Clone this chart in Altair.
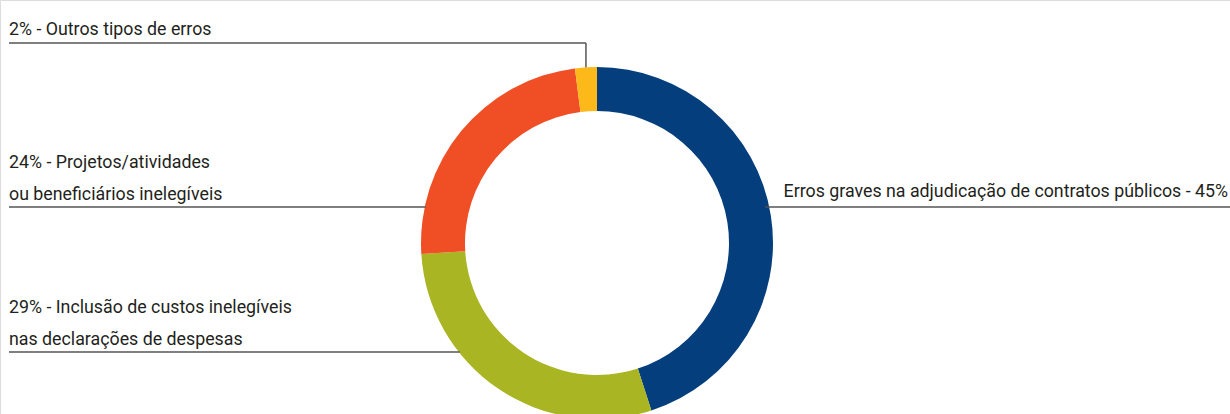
import math
import altair as alt
import pandas as pd

# ---- data ----
categories = [
    "Erros graves na adjudicação de contratos públicos",
    "Inclusão de custos inelegíveis nas declarações de despesas",
    "Projetos/atividades ou beneficiários inelegíveis",
    "Outros tipos de erros",
]
shares = [45, 29, 24, 2]
colors = ["#043e7d", "#a9b522", "#f04e24", "#fdb81a"]
label_texts = [
    "Erros graves na adjudicação de contratos públicos - 45%",
    "29% - Inclusão de custos inelegíveis\nnas declarações de despesas",
    "24% - Projetos/atividades\n\u2002ou beneficiários inelegíveis",
    "2% - Outros tipos de erros",
]

# ---- layout ----
W, H = 1230, 414
CX, CY = 597, 243
R_OUT, R_IN = 176, 132
FONT = "Roboto"
FS = 17.8
LEFT_X, RIGHT_X = 9, 1228
# label: (side, first baseline y, leader y)
label_layout = [
    ("right", 197, 207),
    ("left", 313, 352),
    ("left", 168, 207),
    ("left", 35, 43),
]

df = pd.DataFrame({"cat": categories, "share": shares, "idx": range(len(shares))})


def edge_x(y, side):
    dy = y - CY
    dx = math.sqrt(max(R_OUT**2 - dy**2, 0))
    return CX + dx if side == "right" else CX - dx


total = sum(shares)
cum = 0
segs = []
texts = []
for i, (s, lab) in enumerate(zip(shares, label_texts)):
    side, ty, ly = label_layout[i]
    mid = (cum + s / 2) / total * 2 * math.pi
    cum += s
    if i == len(shares) - 1:
        px = CX + R_OUT * math.sin(mid)
        py = CY - R_OUT * math.cos(mid)
        segs.append({"x": px, "y": py, "x2": px, "y2": ly})
        segs.append({"x": LEFT_X, "y": ly, "x2": px, "y2": ly})
    elif side == "right":
        segs.append({"x": edge_x(ly, "right") - 4, "y": ly, "x2": W, "y2": ly})
    else:
        segs.append({"x": LEFT_X, "y": ly, "x2": edge_x(ly, "left") + 1, "y2": ly})
    texts.append({"x": RIGHT_X if side == "right" else LEFT_X, "y": ty,
                  "label": lab, "side": side})

seg_df = pd.DataFrame(segs)
txt_df = pd.DataFrame(texts)

xs = alt.Scale(domain=[0, W], range=[0, W], nice=False, zero=False)
ys = alt.Scale(domain=[0, H], range=[0, H], nice=False, zero=False)

arc = alt.Chart(df).mark_arc(outerRadius=R_OUT, innerRadius=R_IN).encode(
    theta=alt.Theta("share:Q", stack=True),
    order=alt.Order("idx:Q"),
    color=alt.Color("cat:N", scale=alt.Scale(domain=categories, range=colors), legend=None),
    x=alt.value(CX),
    y=alt.value(CY),
)

rules = alt.Chart(seg_df).mark_rule(color="#555555", strokeWidth=1.5).encode(
    x=alt.X("x:Q", scale=xs, axis=None),
    y=alt.Y("y:Q", scale=ys, axis=None),
    x2="x2:Q",
    y2="y2:Q",
)

left_txt = alt.Chart(txt_df[txt_df.side == "left"]).mark_text(
    align="left", baseline="alphabetic", font=FONT, fontSize=FS,
    color="#231f20", lineBreak="\n", lineHeight=32,
).encode(
    x=alt.X("x:Q", scale=xs, axis=None),
    y=alt.Y("y:Q", scale=ys, axis=None),
    text="label:N",
)

right_txt = alt.Chart(txt_df[txt_df.side == "right"]).mark_text(
    align="right", baseline="alphabetic", font=FONT, fontSize=FS,
    color="#231f20", lineBreak="\n", lineHeight=32,
).encode(
    x=alt.X("x:Q", scale=xs, axis=None),
    y=alt.Y("y:Q", scale=ys, axis=None),
    text="label:N",
)

chart = alt.layer(arc, rules, left_txt, right_txt).properties(
    width=W, height=H, padding=0, autosize=alt.AutoSizeParams(type="none"),
).configure_view(stroke=None).configure(background="white")

chart.save("out.html", embed_options={"renderer": "svg", "actions": False})
